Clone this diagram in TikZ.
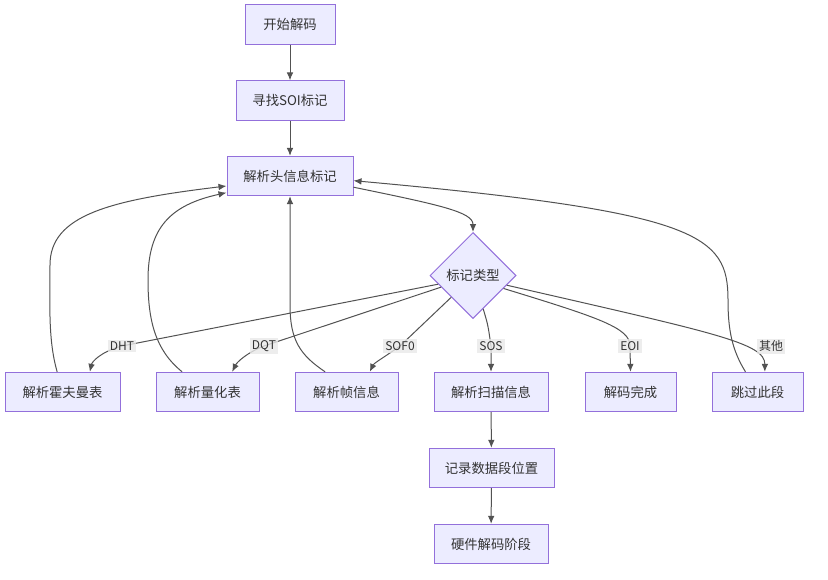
\documentclass[tikz,border=0pt]{standalone}
\usepackage{fontspec}
\setmainfont{Noto Sans CJK SC}
\usetikzlibrary{shapes.geometric,arrows.meta}
\definecolor{boxfill}{HTML}{ECECFF}
\definecolor{boxline}{HTML}{9370DB}
\definecolor{edgeline}{HTML}{333333}
\definecolor{lblfill}{HTML}{E8E8E8}

\begin{document}
\begin{tikzpicture}[x=0.75pt,y=-0.75pt,
  box/.style={draw=boxline,fill=boxfill,line width=0.75pt,minimum height=29.5pt,
    inner sep=0pt,font=\fontsize{10}{12}\selectfont,text=edgeline},
  choice/.style={diamond,aspect=1,draw=boxline,fill=boxfill,line width=0.75pt,
    minimum width=64.5pt,minimum height=64.5pt,inner sep=0pt,
    font=\fontsize{10}{12}\selectfont,text=edgeline},
  flow/.style={draw=edgeline!85,line width=0.75pt,-{Latex[length=6pt,width=5pt]}},
  lbl/.style={fill=lblfill,fill opacity=0.8,text opacity=1,inner sep=1.5pt,
    font=\fontsize{9}{11}\selectfont,text=edgeline}]
   \useasboundingbox (0,0) rectangle (828,579);

   \node[box,minimum width=67.5pt] (start) at (290,24.5) {开始解码};
   \node[box,minimum width=81pt] (soi) at (290,100.5) {寻找SOI标记};
   \node[box,minimum width=94.5pt] (hdr) at (290,176) {解析头信息标记};
   \node[choice] (type) at (473,275.5) {标记类型};

   \node[box,minimum width=86.25pt] (huff) at (62.5,392) {解析霍夫曼表};
   \node[box,minimum width=77.25pt] (quant) at (207.5,392) {解析量化表};
   \node[box,minimum width=77.25pt] (frame) at (346.5,392) {解析帧信息};
   \node[box,minimum width=85.5pt] (scan) at (491,392) {解析扫描信息};
   \node[box,minimum width=68.25pt] (done) at (630.5,392) {解码完成};
   \node[box,minimum width=68.25pt] (skip) at (757.5,392) {跳过此段};
   \node[box,minimum width=93.75pt] (rec) at (491.5,468) {记录数据段位置};
   \node[box,minimum width=85.5pt] (hw) at (491,544) {硬件解码阶段};

   \coordinate (cDHT) at (122,346);
   \coordinate (cDQT) at (264,346);
   \coordinate (cSOF) at (400,346);
   \coordinate (cSOS) at (491,346);
   \coordinate (cEOI) at (630,346);
   \coordinate (cOther) at (771,346);

   \draw[flow] (start) -- (soi);
   \draw[flow] (soi) -- (hdr);
   \draw[flow] (hdr.-10) .. controls (440,205) and (473,212) .. (type.north);

   \draw[flow] (type.194) -- (cDHT) .. controls (100,352) and (92,362) .. ([xshift=20.5pt]huff.north);
   \draw[flow] (type.200) -- (cDQT) .. controls (248,352) and (237,362) .. ([xshift=18.5pt]quant.north);
   \draw[flow] (type.225) -- (cSOF) .. controls (386,356) and (374,363) .. ([xshift=17.5pt]frame.north);
   \draw[flow] (type.287) .. controls (488,325) .. (cSOS) -- (scan.north);
   \draw[flow] (type.337) .. controls (600,318) and (630,328) .. (cEOI) -- (done.north);
   \draw[flow] (type.344) .. controls (715,333) and (765,343) .. ([xshift=5.5pt]skip.north);

   \draw[flow] ([xshift=-4pt]huff.north) .. controls (48,340) and (50,305) .. (50,265)
      .. controls (50,215) and (110,200) .. ([yshift=-7.5pt]hdr.west);
   \draw[flow] ([xshift=-19pt]quant.north) .. controls (155,350) and (148,320) .. (148,280)
      .. controls (148,228) and (170,205) .. ([yshift=-12.5pt]hdr.west);
   \draw[flow] ([xshift=-16pt]frame.north) .. controls (300,355) and (290,340) .. (290,305)
      -- (hdr.south);
   \draw[flow] ([xshift=-9pt]skip.north) .. controls (732,350) and (728,330) .. (728,300)
      .. controls (728,235) and (700,212) .. ([yshift=-3.5pt]hdr.east);

   \draw[flow] (scan) -- (rec);
   \draw[flow] (rec) -- (hw);

   \node[lbl] (lDHT) at (cDHT) {DHT};
   \node[lbl] (lDQT) at (cDQT) {DQT};
   \node[lbl] (lSOF) at (cSOF) {SOF0};
   \node[lbl] (lSOS) at (cSOS) {SOS};
   \node[lbl] (lEOI) at (cEOI) {EOI};
   \node[lbl] (lOther) at (cOther) {其他};
\end{tikzpicture}
\end{document}
